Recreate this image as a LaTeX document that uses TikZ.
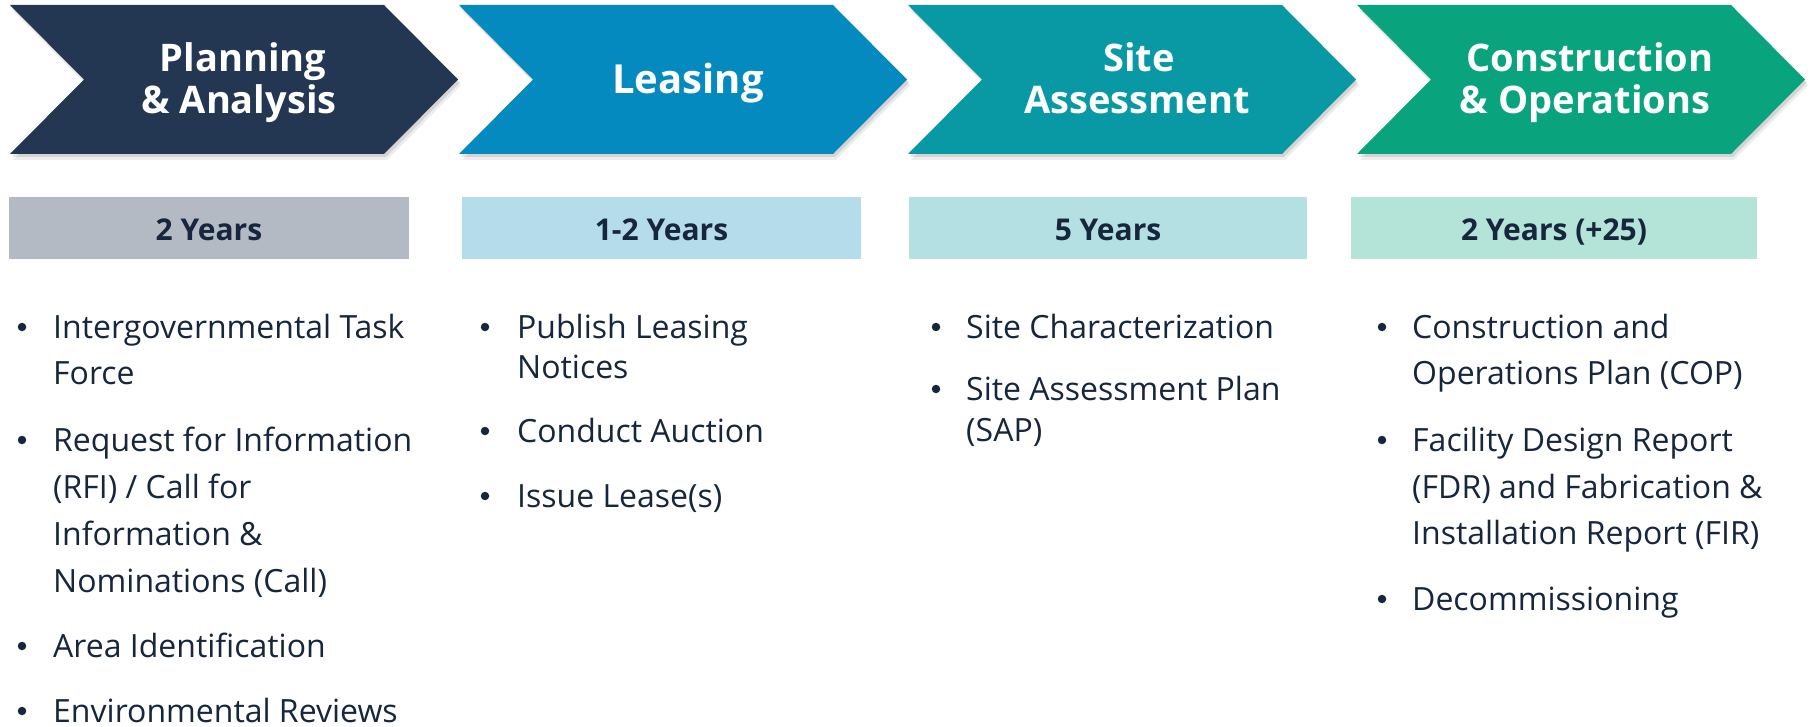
\documentclass[tikz,border=0pt]{standalone}
\usepackage{fontspec}
\setmainfont{Open Sans}
\definecolor{cA}{HTML}{233652}
\definecolor{cB}{HTML}{048ABF}
\definecolor{cC}{HTML}{0899A4}
\definecolor{cD}{HTML}{09A37D}
\definecolor{gA}{HTML}{B3BAC4}
\definecolor{gB}{HTML}{B4DCEB}
\definecolor{gC}{HTML}{B4E0E4}
\definecolor{gD}{HTML}{B4E3D7}
\definecolor{navy}{HTML}{17263D}
\tikzset{
  hdr/.style={text=white, font=\bfseries\fontsize{38}{40}\selectfont, anchor=base, inner sep=0pt},
  bar/.style={inner sep=0pt, text=navy, font=\bfseries\fontsize{30}{36}\selectfont,
              text height=25pt, text depth=0pt, minimum height=62pt},
  btxt/.style={text=navy, font=\fontsize{32}{40}\selectfont, anchor=base west, inner sep=0pt},
  bdot/.style={circle, fill=navy, draw=none, minimum size=8.5pt, inner sep=0pt}
}
\newcommand\lineat[4]{\node[btxt] (#1) at (#2,#3) {#4};}
\newcommand\bulat[3]{\node[bdot] (#1) at (#2,#3-11) {};}
\begin{document}
\begin{tikzpicture}[x=1pt,y=-1pt]
\useasboundingbox (0,0) rectangle (1812,727);
\fill[white] (0,0) rectangle (1812,727);
% chevrons with soft shadow
\foreach \x/\c in {10/cA,459/cB,908/cC,1357/cD}{
  \fill[black,opacity=0.07] (\x+3,11) -- ++(374,0) -- ++(74,74.5) -- ++(-74,74.5) -- ++(-374,0) -- ++(74,-74.5) -- cycle;
  \fill[black,opacity=0.10] (\x+2,8) -- ++(374,0) -- ++(74,74.5) -- ++(-74,74.5) -- ++(-374,0) -- ++(74,-74.5) -- cycle;
  \fill[\c] (\x,5) -- ++(374,0) -- ++(74,74.5) -- ++(-74,74.5) -- ++(-374,0) -- ++(74,-74.5) -- cycle;
}
% headers
\node[hdr] (h1a) at (243,72) {Planning};
\node[hdr] (h1b) at (239,114) {\& Analysis};
\node[hdr, font=\bfseries\fontsize{40}{40}\selectfont] (h2) at (688,94) {Leasing};
\node[hdr] (h3a) at (1139,72) {Site};
\node[hdr] (h3b) at (1137,114) {Assessment};
\node[hdr] (h4a) at (1590,72) {Construction};
\node[hdr] (h4b) at (1585,114) {\& Operations};
% duration bars
\node[bar, fill=gA, minimum width=400pt] (b1) at (209,228) {2 Years};
\node[bar, fill=gB, minimum width=399pt] (b2) at (661.5,228) {1-2 Years};
\node[bar, fill=gC, minimum width=398pt] (b3) at (1108,228) {5 Years};
\node[bar, fill=gD, minimum width=406pt] (b4) at (1554,228) {2 Years (+25)};
% column 1
\bulat{d11}{22}{338}
\lineat{t11a}{53}{338}{Intergovernmental Task}
\lineat{t11b}{53}{384}{Force}
\bulat{d12}{22}{451}
\lineat{t12a}{53}{451}{Request for Information}
\lineat{t12b}{53}{498}{(RFI) / Call for}
\lineat{t12c}{53}{545}{Information \&}
\lineat{t12d}{53}{592}{Nominations (Call)}
\bulat{d13}{22}{657}
\lineat{t13a}{53}{657}{Area Identification}
\bulat{d14}{22}{722}
\lineat{t14a}{53}{722}{Environmental Reviews}
% column 2
\bulat{d21}{485}{338}
\lineat{t21a}{517}{338}{Publish Leasing}
\lineat{t21b}{517}{378}{Notices}
\bulat{d22}{485}{442}
\lineat{t22a}{517}{442}{Conduct Auction}
\bulat{d23}{485}{507}
\lineat{t23a}{517}{507}{Issue Lease(s)}
% column 3
\bulat{d31}{936}{338}
\lineat{t31a}{966}{338}{Site Characterization}
\bulat{d32}{936}{400}
\lineat{t32a}{966}{400}{Site Assessment Plan}
\lineat{t32b}{966}{441}{(SAP)}
% column 4
\bulat{d41}{1382}{338}
\lineat{t41a}{1412}{338}{Construction and}
\lineat{t41b}{1412}{384}{Operations Plan (COP)}
\bulat{d42}{1382}{451}
\lineat{t42a}{1412}{451}{Facility Design Report}
\lineat{t42b}{1412}{498}{(FDR) and Fabrication \&}
\lineat{t42c}{1412}{544}{Installation Report (FIR)}
\bulat{d43}{1382}{610}
\lineat{t43a}{1412}{610}{Decommissioning}
\end{tikzpicture}
\end{document}
